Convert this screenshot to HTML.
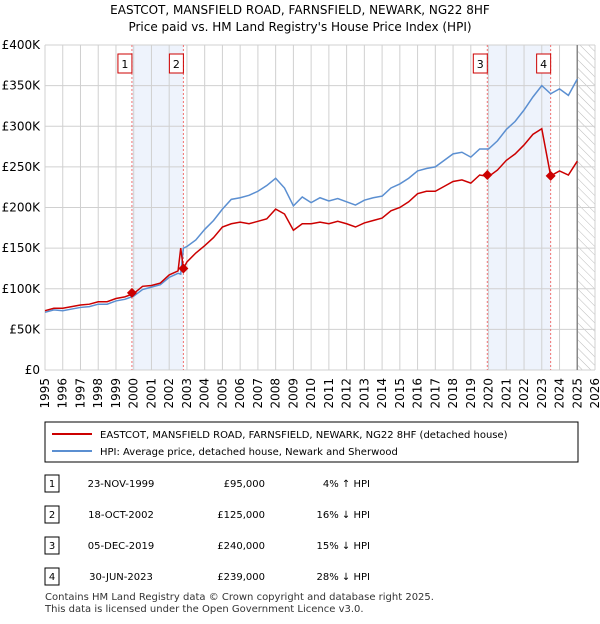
<!DOCTYPE html>
<html><head><meta charset="utf-8"><style>
body{margin:0;background:#fff;font-family:"DejaVu Sans","Liberation Sans",sans-serif;}
svg text{font-family:"DejaVu Sans","Liberation Sans",sans-serif;}
</style></head><body>
<svg width="600" height="620">
<text x="300" y="14" text-anchor="middle" font-size="12">EASTCOT, MANSFIELD ROAD, FARNSFIELD, NEWARK, NG22 8HF</text>
<text x="300" y="31" text-anchor="middle" font-size="12">Price paid vs. HM Land Registry's House Price Index (HPI)</text>
<g id="plot"></g>
<rect x="45" y="422" width="533" height="40" fill="#fff" stroke="#000"/>
<line x1="52" y1="434" x2="92" y2="434" stroke="#cc0000" stroke-width="2"/>
<text x="100" y="438" font-size="10">EASTCOT, MANSFIELD ROAD, FARNSFIELD, NEWARK, NG22 8HF (detached house)</text>
<line x1="52" y1="451" x2="92" y2="451" stroke="#5b8fd1" stroke-width="2"/>
<text x="100" y="455" font-size="10">HPI: Average price, detached house, Newark and Sherwood</text>
<g id="table" font-size="10"></g>
<text x="45" y="600" font-size="10" fill="#333">Contains HM Land Registry data © Crown copyright and database right 2025.</text>
<text x="45" y="612" font-size="10" fill="#333">This data is licensed under the Open Government Licence v3.0.</text>
</svg>
<script>
const years=[1995,1995.5,1996,1996.5,1997,1997.5,1998,1998.5,1999,1999.5,2000,2000.5,2001,2001.5,2002,2002.5,2002.65,2002.8,2003,2003.5,2004,2004.5,2005,2005.5,2006,2006.5,2007,2007.5,2008,2008.5,2009,2009.5,2010,2010.5,2011,2011.5,2012,2012.5,2013,2013.5,2014,2014.5,2015,2015.5,2016,2016.5,2017,2017.5,2018,2018.5,2019,2019.5,2020,2020.5,2021,2021.5,2022,2022.5,2023,2023.5,2024,2024.5,2025];
const hpi=[71,74,73,75,77,78,81,81,85,87,91,99,102,105,114,119,118,150,152,160,173,184,198,210,212,215,220,227,236,224,202,213,206,212,208,211,207,203,209,212,214,224,229,236,245,248,250,258,266,268,262,272,272,282,296,306,320,336,350,340,346,338,358];
const price=[73,76,76,78,80,81,84,84,88,90,94,103,104,107,117,122,150,125,133,144,153,163,176,180,182,180,183,186,198,192,172,180,180,182,180,183,180,176,181,184,187,196,200,207,217,220,220,226,232,234,230,240,238,246,258,266,277,290,297,239,245,240,257];
const saleYears=[1999.9,2002.8,2019.93,2023.5];
const salePrices=[95,125,240,239];
const saleLabels=["1","2","3","4"];
const saleDates=["23-NOV-1999","18-OCT-2002","05-DEC-2019","30-JUN-2023"];
const salePriceText=["£95,000","£125,000","£240,000","£239,000"];
const saleHpiText=["4% ↑ HPI","16% ↓ HPI","15% ↓ HPI","28% ↓ HPI"];
const yTicks=[0,50,100,150,200,250,300,350,400];
const yTickLabels=["£0","£50K","£100K","£150K","£200K","£250K","£300K","£350K","£400K"];
const X=y=>45+(y-1995)*(550/31);
const Y=v=>370-v*0.8125;
const NS="http://www.w3.org/2000/svg";
const g=document.getElementById('plot');
function mk(t,a,p){const e=document.createElementNS(NS,t);for(const k in a)e.setAttribute(k,a[k]);(p||g).appendChild(e);return e;}
for(const [a,b] of [[0,1],[2,3]]){const r=mk('rect',{x:X(saleYears[a]),y:Y(400),width:X(saleYears[b])-X(saleYears[a]),height:Y(0)-Y(400),fill:'#eef3fc'});

}
const defs=mk('defs',{});const pat=mk('pattern',{id:'h',width:6,height:6,patternUnits:'userSpaceOnUse',patternTransform:'rotate(-45)'},defs);mk('line',{x1:0,y1:0,x2:0,y2:6,stroke:'#bbb','stroke-width':1},pat);
const hr=mk('rect',{x:X(2025),y:Y(400),width:X(2026)-X(2025),height:Y(0)-Y(400),fill:'url(#h)'});


for(let yr=1995;yr<=2026;yr++){const l=mk('line',{x1:X(yr),x2:X(yr),y1:Y(400),y2:Y(0),stroke:'#d0d0d0'});


const t=mk('text',{x:0,y:0,'font-size':12,'text-anchor':'end',transform:`translate(${X(yr)+4},${Y(0)+8}) rotate(-90)`});t.textContent=yr;

}
yTicks.forEach((v,i)=>{const l=mk('line',{x1:X(1995),x2:X(2026),y1:Y(v),y2:Y(v),stroke:'#d0d0d0'});


const t=mk('text',{x:40,y:Y(v)+4,'font-size':12,'text-anchor':'end'});t.textContent=yTickLabels[i];

});
const vl=mk('line',{x1:X(2025),x2:X(2025),y1:Y(400),y2:Y(0),stroke:'#888','stroke-width':1.5});


saleYears.forEach((s,i)=>{const l=mk('line',{x1:X(s),x2:X(s),y1:Y(400),y2:Y(0),stroke:'#f07070','stroke-dasharray':'2,2'});


const r=mk('rect',{x:X(s)-14,y:54,width:14,height:19,fill:'#fff',stroke:'#cc0000'});


const t=mk('text',{x:X(s)-7,y:68,'font-size':11,'text-anchor':'middle'});t.textContent=saleLabels[i];

});
const pts=a=>a.map((v,i)=>X(years[i])+','+Y(v)).join(' ');
const hl=mk('polyline',{points:pts(hpi),fill:'none',stroke:'#5b8fd1','stroke-width':1.5});


const pl=mk('polyline',{points:pts(price),fill:'none',stroke:'#cc0000','stroke-width':1.5});


saleYears.forEach((s,i)=>{const d=mk('path',{d:`M${X(s)},${Y(salePrices[i])-5}l5,5l-5,5l-5,-5z`,fill:'#cc0000'});

});
const tb=document.getElementById('table');
saleLabels.forEach((lab,i)=>{const yy=487+i*31;
const r=mk('rect',{x:45,y:yy-12,width:14,height:17,fill:'#fff',stroke:'#000'},tb);


const cells=[[52,lab,'middle'],[121,saleDates[i],'middle'],[265,salePriceText[i],'end'],[370,saleHpiText[i],'end']];
cells.forEach(c=>{const t=mk('text',{x:c[0],y:yy,'text-anchor':c[2]},tb);t.textContent=c[1];

});});
</script>
</body></html>
